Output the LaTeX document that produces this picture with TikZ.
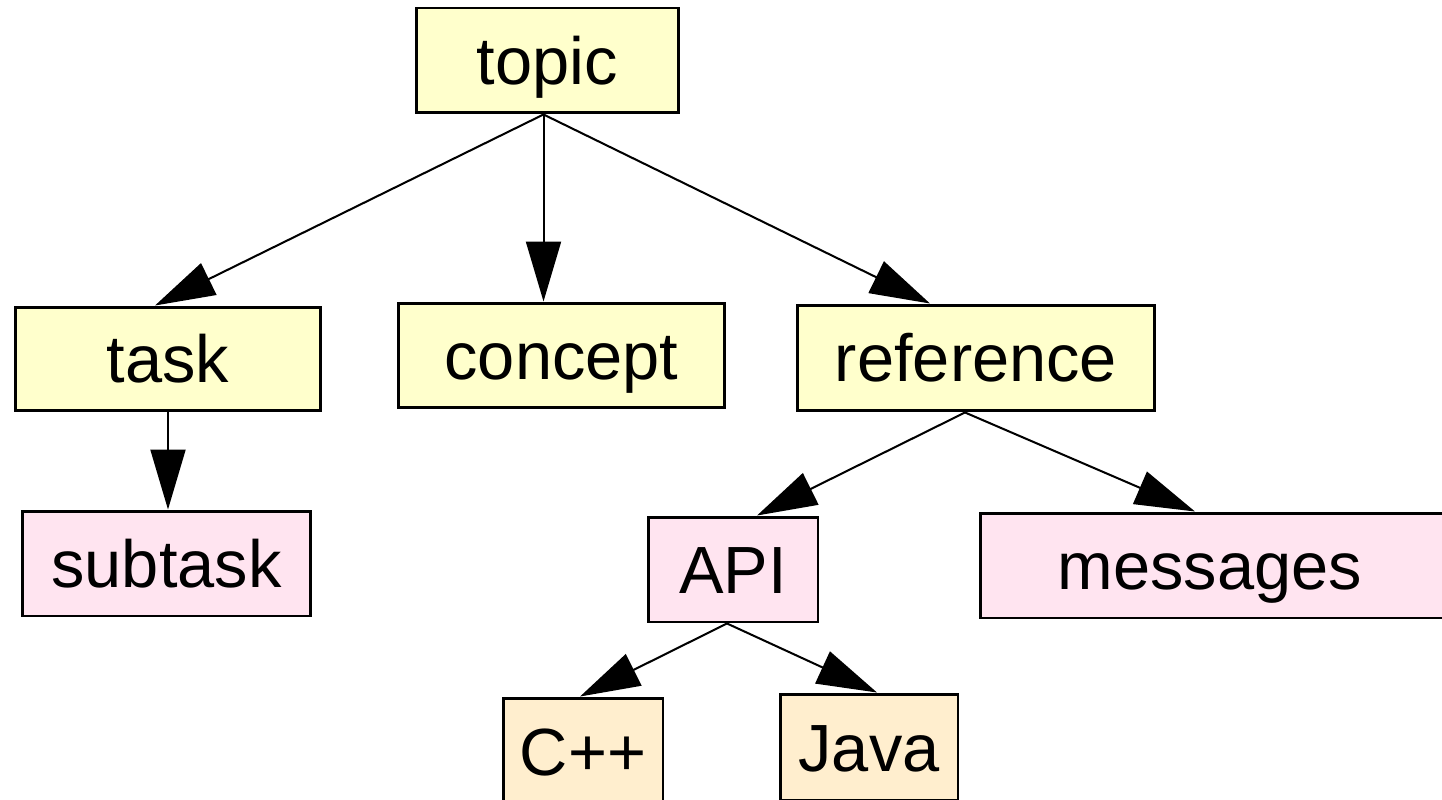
\documentclass[tikz,border=0pt]{standalone}
\usepackage{fontspec}
\setmainfont{Liberation Sans}
\usetikzlibrary{arrows.meta}
\definecolor{ylw}{RGB}{255,255,204}
\definecolor{pnk}{RGB}{255,228,240}
\definecolor{tan}{RGB}{255,238,206}
\tikzset{
  box/.style={draw=black, line width=1.7pt, rectangle, inner sep=0pt,
    font=\fontsize{38}{40}\selectfont, text height=0.96cm, text depth=0pt},
  ybox/.style={box, fill=ylw},
  pbox/.style={box, fill=pnk},
  tbox/.style={box, fill=tan},
  arr/.style={line width=1.15pt, -{Triangle[length=1.2cm, width=0.7cm]}}
}
\begin{document}
\begin{tikzpicture}[x=0.02cm, y=-0.02cm]
\useasboundingbox (0,0) rectangle (1442,800);
\clip (0,0) rectangle (1442,800);
\node[ybox, minimum width=5.26cm, minimum height=2.10cm] (topic) at (547.5,60.5) {topic};
\node[ybox, minimum width=6.12cm, minimum height=2.08cm] (task) at (168,359) {task};
\node[ybox, minimum width=6.54cm, minimum height=2.10cm] (concept) at (561.5,355.5) {concept};
\node[ybox, minimum width=7.16cm, minimum height=2.12cm] (reference) at (976,358) {reference};
\node[pbox, minimum width=5.78cm, minimum height=2.10cm] (subtask) at (166.5,563.5) {subtask};
\node[pbox, minimum width=3.40cm, minimum height=2.10cm] (api) at (733,569.5) {API};
\node[pbox, minimum width=9.60cm, minimum height=2.10cm, text width=9.6cm, align=left] (messages) at (1220,565.5) {\hspace*{1.55cm}messages};
\node[tbox, minimum width=3.20cm, minimum height=2.12cm] (cpp) at (583,751) {C++};
\node[tbox, minimum width=3.56cm, minimum height=2.12cm] (java) at (869,747) {Java};
\coordinate (tp) at ([xshift=-0.08cm]topic.south);
\draw[arr] (tp) -- ([xshift=-0.26cm]task.north);
\draw[arr] (tp) -- (tp |- concept.north);
\draw[arr] (tp) -- ([xshift=-0.92cm]reference.north);
\draw[arr] (task.south) -- (task.south |- subtask.north);
\coordinate (rf) at ([xshift=-0.22cm]reference.south);
\draw[arr] (rf) -- ([xshift=0.48cm]api.north);
\draw[arr] (rf) -- ([xshift=-0.5cm]messages.north);
\coordinate (ap) at ([xshift=-0.12cm]api.south);
\draw[arr] (ap) -- ([xshift=-0.06cm]cpp.north);
\draw[arr] (ap) -- ([xshift=0.16cm]java.north);
\end{tikzpicture}
\end{document}
